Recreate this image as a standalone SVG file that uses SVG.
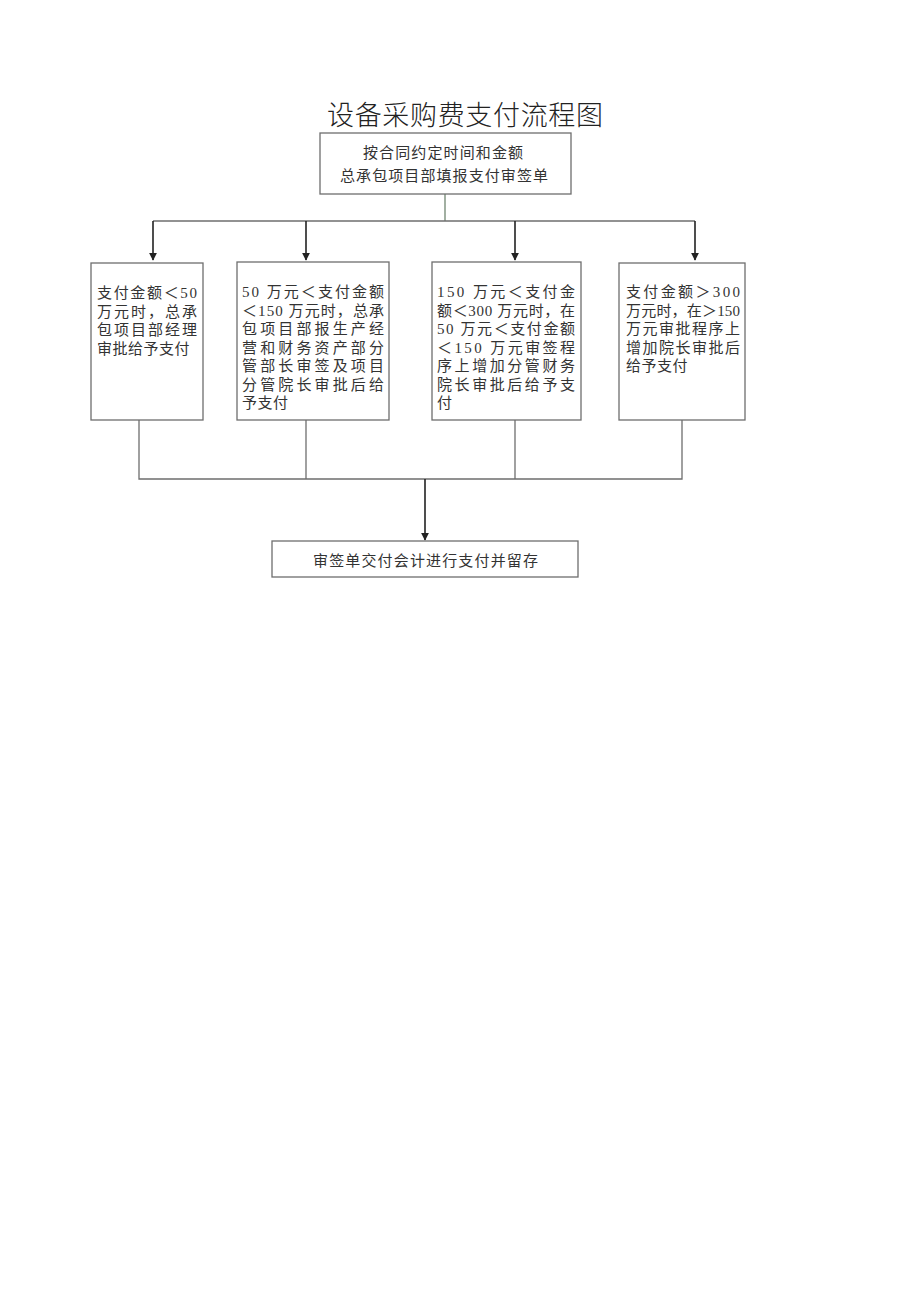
<svg xmlns="http://www.w3.org/2000/svg" width="920" height="1301" viewBox="0 0 920 1301">
<style>
.box{fill:#fff;stroke:#6e6e6e;stroke-width:1.3}
.t{font-family:"Liberation Serif","Noto Sans CJK SC",serif;font-size:15px;fill:#333}
.title{font-family:"Liberation Serif","Noto Sans CJK SC",serif;font-size:27px;font-weight:300;fill:#222}
.ln{fill:none;stroke:#6e6e6e;stroke-width:1.3}
.ar{fill:none;stroke:#222;stroke-width:1.6;marker-end:url(#ah)}
</style>
<defs>
<marker id="ah" viewBox="0 0 10 10" refX="9" refY="5" markerWidth="8" markerHeight="8" markerUnits="userSpaceOnUse" orient="auto">
<path d="M0,0 L10,5 L0,10 Z" fill="#222"/>
</marker>
</defs>
<rect width="920" height="1301" fill="#fff"/>
<text class="title" x="465" y="125" text-anchor="middle" textLength="276" lengthAdjust="spacing">设备采购费支付流程图</text>

<g id="connectors">
<line x1="445" y1="194" x2="445" y2="221" stroke="#708570" stroke-width="1.3"/>
<line class="ln" x1="153" y1="221" x2="695" y2="221"/>
<line class="ar" x1="153" y1="221" x2="153" y2="260"/>
<line class="ar" x1="306" y1="221" x2="306" y2="260"/>
<line class="ar" x1="515" y1="221" x2="515" y2="260"/>
<line class="ar" x1="695" y1="221" x2="695" y2="260"/>
<polyline class="ln" points="139,420 139,479 682,479 682,420"/>
<line class="ln" x1="306" y1="420" x2="306" y2="479"/>
<line class="ln" x1="515" y1="420" x2="515" y2="479"/>
<line class="ar" x1="425" y1="479" x2="425" y2="540"/>
</g>

<g id="n-start">
<rect class="box" x="320" y="133" width="251" height="61"/>
<text class="t" x="363" y="158" textLength="160" lengthAdjust="spacing">按合同约定时间和金额</text>
<text class="t" x="340" y="181" textLength="208" lengthAdjust="spacing">总承包项目部填报支付审签单</text>
</g>

<g id="n-lt50">
<rect class="box" x="91" y="263" width="112" height="157"/>
<text class="t" x="97" y="298" textLength="100" lengthAdjust="spacing">支付金额＜50</text>
<text class="t" x="97" y="316.5" textLength="100" lengthAdjust="spacing">万元时，总承</text>
<text class="t" x="97" y="335" textLength="100" lengthAdjust="spacing">包项目部经理</text>
<text class="t" x="97" y="353.5" letter-spacing="0.5">审批给予支付</text>
</g>

<g id="n-50-150">
<rect class="box" x="237" y="262" width="152" height="158"/>
<text class="t" x="242" y="297" textLength="142" lengthAdjust="spacing">50 万元＜支付金额</text>
<text class="t" x="242" y="315.5" textLength="142" lengthAdjust="spacing">＜150 万元时，总承</text>
<text class="t" x="242" y="334" textLength="142" lengthAdjust="spacing">包项目部报生产经</text>
<text class="t" x="242" y="352.5" textLength="142" lengthAdjust="spacing">营和财务资产部分</text>
<text class="t" x="242" y="371" textLength="142" lengthAdjust="spacing">管部长审签及项目</text>
<text class="t" x="242" y="389.5" textLength="142" lengthAdjust="spacing">分管院长审批后给</text>
<text class="t" x="242" y="408" letter-spacing="0.5">予支付</text>
</g>

<g id="n-150-300">
<rect class="box" x="432" y="262" width="149" height="158"/>
<text class="t" x="437" y="297" textLength="138" lengthAdjust="spacing">150 万元＜支付金</text>
<text class="t" x="437" y="315.5" textLength="138" lengthAdjust="spacing">额＜300 万元时，在</text>
<text class="t" x="437" y="334" textLength="138" lengthAdjust="spacing">50 万元＜支付金额</text>
<text class="t" x="437" y="352.5" textLength="138" lengthAdjust="spacing">＜150 万元审签程</text>
<text class="t" x="437" y="371" textLength="138" lengthAdjust="spacing">序上增加分管财务</text>
<text class="t" x="437" y="389.5" textLength="138" lengthAdjust="spacing">院长审批后给予支</text>
<text class="t" x="437" y="408">付</text>
</g>

<g id="n-gt300">
<rect class="box" x="619" y="263" width="126" height="157"/>
<text class="t" x="626" y="297" textLength="114" lengthAdjust="spacing">支付金额＞300</text>
<text class="t" x="626" y="315.5" textLength="114" lengthAdjust="spacing">万元时，在＞150</text>
<text class="t" x="626" y="334" textLength="114" lengthAdjust="spacing">万元审批程序上</text>
<text class="t" x="626" y="352.5" textLength="114" lengthAdjust="spacing">增加院长审批后</text>
<text class="t" x="626" y="371" letter-spacing="0.5">给予支付</text>
</g>

<g id="n-end">
<rect class="box" x="272" y="541" width="306" height="36"/>
<text class="t" x="313" y="566" textLength="225" lengthAdjust="spacing">审签单交付会计进行支付并留存</text>
</g>
</svg>
